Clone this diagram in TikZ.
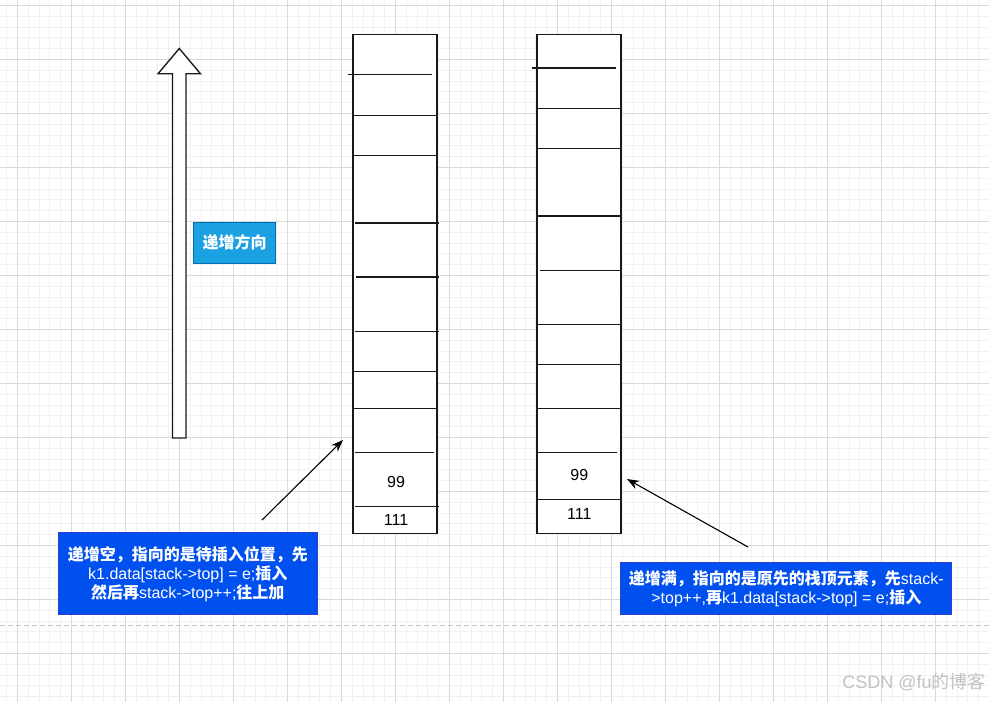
\documentclass[tikz,border=0pt]{standalone}
\usepackage{fontspec}
\setmainfont{Liberation Sans}
\newfontfamily\cjk{Noto Sans CJK SC}
\usetikzlibrary{arrows.meta}
\definecolor{gridminor}{HTML}{F1F1F1}
\definecolor{gridmajor}{HTML}{DADADA}
\definecolor{dashcol}{HTML}{C4C4C4}
\definecolor{lblfill}{HTML}{1BA1E2}
\definecolor{lbldraw}{HTML}{006EAF}
\definecolor{boxfill}{HTML}{0050EF}
\definecolor{boxdraw}{HTML}{2B3FD0}
\definecolor{wmark}{HTML}{C2C2C2}
\tikzset{
  stackbox/.style={draw=black!90, line width=1.35pt, fill=white, minimum width=84pt, minimum height=499pt, inner sep=0pt},
  cell/.style={black!90, line width=1.35pt},
  num/.style={font=\fontsize{16}{19}\selectfont, inner sep=0pt},
  lblbox/.style={draw=lbldraw, fill=lblfill, line width=1pt, text=white, minimum width=82.4pt, minimum height=41pt, inner sep=0pt, font=\fontsize{16}{19}\selectfont\cjk\bfseries},
  notebox/.style={draw=boxdraw, fill=boxfill, line width=1pt, text=white, align=center, inner sep=0pt, font=\fontsize{16}{19}\selectfont},
  conn/.style={black, line width=1.1pt, -{Stealth[length=12pt,width=9pt]}},
}
\newcommand{\zh}[1]{{\cjk\bfseries #1}}
\begin{document}
\begin{tikzpicture}[x=1pt,y=-1pt]
\useasboundingbox (0,0) rectangle (989,702);
\fill[white] (0,0) rectangle (989,702);
% grid
\foreach \i in {0,...,91} \draw[gridminor, line width=0.8pt] ({6.5+10.8*\i},0) -- ({6.5+10.8*\i},702);
\foreach \j in {0,...,65} \draw[gridminor, line width=0.8pt] (0,{5.3+10.8*\j}) -- (989,{5.3+10.8*\j});
\foreach \i in {0,...,18} \draw[gridmajor, line width=0.9pt] ({17.3+54*\i},0) -- ({17.3+54*\i},702);
\foreach \j in {0,...,12} \draw[gridmajor, line width=0.9pt] (0,{5.3+54*\j}) -- (989,{5.3+54*\j});
% dashed separator
\draw[dashcol, line width=1.3pt, dash pattern=on 5pt off 3pt] (0,625.5) -- (989,625.5);

% up arrow
\draw[black!90, line width=1.35pt, fill=white, line join=miter]
  (172.5,438) -- (172.5,73.8) -- (158,73.8) -- (179.3,48.5) -- (200.5,73.8) -- (186,73.8) -- (186,438) -- cycle;
\node[lblbox] (dir) at (234.5,242.8) {递增方向};

% left stack
\node[stackbox] (s1) at (395,283.8) {};
\draw[cell] (348,74.3) -- (432,74.3);
\draw[cell] (353,115.3) -- (437,115.3);
\draw[cell] (353,155.7) -- (437,155.7);
\draw[cell] (355,223) -- (438.5,223);
\draw[cell] (356,277) -- (439,277);
\draw[cell] (355,331.3) -- (439,331.3);
\draw[cell] (353,371.7) -- (437,371.7);
\draw[cell] (353,408.7) -- (437,408.7);
\draw[cell] (355,452.7) -- (433.7,452.7);
\draw[cell] (355,506.7) -- (439,506.7);
\node[num] (l99) at (396,482.3) {99};
\node[num] (l111) at (396,520) {111};

% right stack
\node[stackbox] (s2) at (579,283.8) {};
\draw[cell] (531.7,68) -- (615.7,68);
\draw[cell] (537,108.3) -- (621,108.3);
\draw[cell] (537,148.7) -- (621,148.7);
\draw[cell] (538,216) -- (622,216);
\draw[cell] (540,270.3) -- (622,270.3);
\draw[cell] (538,324.3) -- (622,324.3);
\draw[cell] (537,364.7) -- (621,364.7);
\draw[cell] (537,408.7) -- (621,408.7);
\draw[cell] (538.3,452.7) -- (617.3,452.7);
\draw[cell] (538,499.3) -- (622,499.3);
\node[num] (r99) at (579.3,475) {99};
\node[num] (r111) at (579.3,514) {111};

% note boxes
\node[notebox, minimum width=259pt, minimum height=81.7pt] (n1) at (187.8,573.8)
  {\zh{递增空，指向的是待插入位置，先}\\k1.data[stack->top] = e;\zh{插入}\\\zh{然后再}stack->top++;\zh{往上加}};
\node[notebox, minimum width=330.7pt, minimum height=52.3pt] (n2) at (786.3,588.8)
  {\zh{递增满，指向的是原先的栈顶元素，先}stack-\\>top++,\zh{再}k1.data[stack->top] = e;\zh{插入}};

% connectors
\coordinate (a1s) at (262,520);
\coordinate (a1e) at (343,440);
\coordinate (a2s) at (748,547);
\coordinate (a2e) at (627,479);
\draw[conn] (a1s) -- (a1e);
\draw[conn] (a2s) -- (a2e);

% watermark
\node[text=wmark, font=\fontsize{18}{20}\selectfont, inner sep=0pt] (wm) at (914,681.7) {CSDN @fu{\cjk 的博客}};
\end{tikzpicture}
\end{document}
